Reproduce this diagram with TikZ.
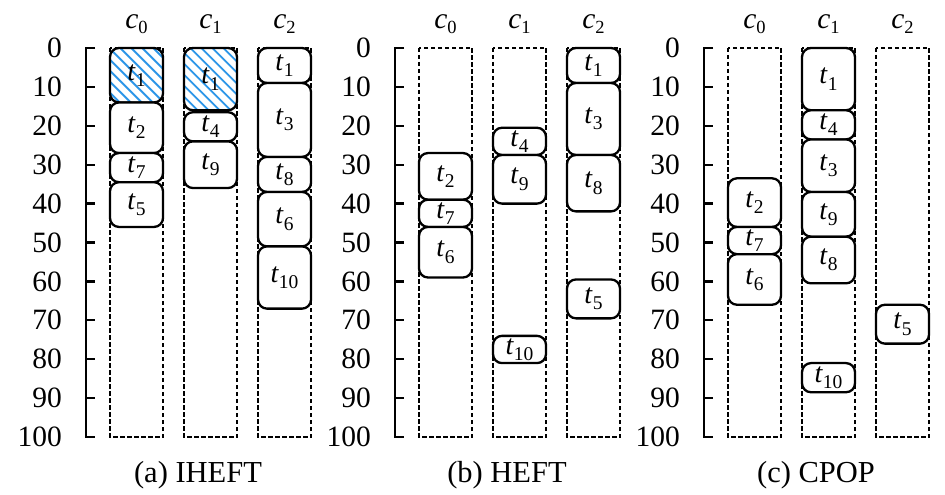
\documentclass[tikz,border=0pt]{standalone}
\usepackage{fontspec}
\setmainfont{Liberation Serif}
\definecolor{hatchblue}{RGB}{45,150,232}
\newcommand\tlab[2]{\textit{#1}\raisebox{-0.22em}{\fontsize{19.5}{19.5}\selectfont #2}}
\newcommand\clab[2]{\textit{#1}\raisebox{-0.18em}{\fontsize{18.5}{18.5}\selectfont #2}}
\tikzset{
  colbox/.style={draw, dash pattern=on 4.5pt off 2.5pt, line width=1.6pt},
  taskbox/.style={draw, line width=2.3pt, rounded corners=9pt, fill=white,
    minimum width=53pt, inner sep=0pt, font=\fontsize{28}{28}\selectfont},
  axisline/.style={line width=2.3pt},
  ticklab/.style={anchor=east, inner sep=0pt, font=\fontsize{29.5}{29.5}\selectfont},
  collab/.style={anchor=base, inner sep=0pt, font=\fontsize{29.5}{29.5}\selectfont},
  caption/.style={anchor=base, inner sep=0pt, font=\fontsize{30.5}{30.5}\selectfont},
  hatched/.style={path picture={
    \foreach \k in {-110,-99,...,110}
      \draw[hatchblue, line width=1.8pt]
        ([xshift=\k pt]path picture bounding box.center) ++(-60pt,60pt) -- ++(120pt,-120pt);
  }},
}
% name, left x of column, start, end, label digit, extra style
\newcommand\task[6]{%
  \node[taskbox,#6, minimum height={3.89pt*(#4-#3)}] (#1) at ({#2+26.5},{(#3+#4)/2}) {\tlab{t}{#5}};}
\newcommand\panel[3]{% axis x, prefix, caption
  \draw[axisline] ({#1+9},0) -- (#1,0) -- (#1,100) -- ({#1+9},100);
  \foreach \v in {10,20,...,90} \draw[axisline] (#1,\v) -- ({#1+9},\v);
  \foreach \v in {0,10,...,100} \node[ticklab] (#2tick\v) at ({#1-24},\v) {\v};
  \foreach \c/\o in {0/24,1/98,2/172} {
    \draw[colbox] ({#1+\o},0) rectangle ({#1+\o+53},100);
    \node[collab] (#2c\c) at ({#1+\o+26.5},-5.14) {\clab{c}{\c}};
  }
  \node[caption] (#2cap) at ({#1+112},111.6) {#3};
}
\begin{document}
\begin{tikzpicture}[x=1pt, y=-3.89pt]
\useasboundingbox[fill=white] (0,-12.34) rectangle (945,114.91);
% panel (a)
\panel{86}{a}{(a) IHEFT}
\task{at1a}{110}{0}{14}{1}{hatched}
\task{at2}{110}{14}{27}{2}{}
\task{at7}{110}{27}{34.5}{7}{}
\task{at5}{110}{34.5}{46}{5}{}
\task{at1b}{184}{0}{16}{1}{hatched}
\task{at4}{184}{16.5}{24}{4}{}
\task{at9}{184}{24}{36}{9}{}
\task{at1c}{258}{0}{9}{1}{}
\task{at3}{258}{9}{28}{3}{}
\task{at8}{258}{28}{37}{8}{}
\task{at6}{258}{37}{51}{6}{}
\task{at10}{258}{51}{67}{10}{}
% panel (b)
\panel{395}{b}{(b) HEFT}
\task{bt2}{419}{27}{39}{2}{}
\task{bt7}{419}{39}{46}{7}{}
\task{bt6}{419}{46}{59}{6}{}
\task{bt4}{493}{20.5}{27.5}{4}{}
\task{bt9}{493}{27.5}{40}{9}{}
\task{bt10}{493}{74}{81}{10}{}
\task{bt1}{567}{0}{9}{1}{}
\task{bt3}{567}{9}{27.5}{3}{}
\task{bt8}{567}{27.5}{42}{8}{}
\task{bt5}{567}{59.5}{69.5}{5}{}
% panel (c)
\panel{704}{c}{(c) CPOP}
\task{ct2}{728}{33.5}{46}{2}{}
\task{ct7}{728}{46}{53}{7}{}
\task{ct6}{728}{53}{66}{6}{}
\task{ct1}{802}{0}{16}{1}{}
\task{ct4}{802}{16}{23.5}{4}{}
\task{ct3}{802}{23.5}{37}{3}{}
\task{ct9}{802}{37}{48.5}{9}{}
\task{ct8}{802}{48.5}{60.5}{8}{}
\task{ct10}{802}{81}{88.5}{10}{}
\task{ct5}{876}{66}{76}{5}{}
\end{tikzpicture}
\end{document}
